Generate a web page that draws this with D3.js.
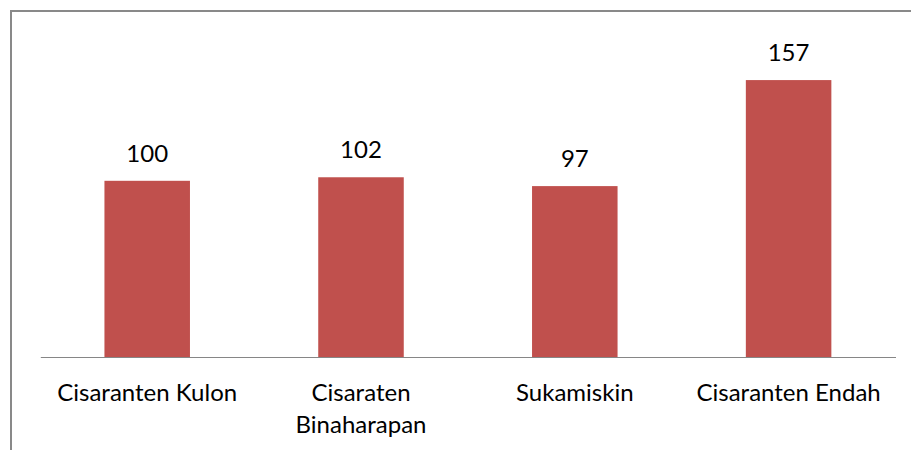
<!DOCTYPE html>
<html>
<head>
<meta charset="utf-8">
<script src="https://cdn.jsdelivr.net/npm/d3@7"></script>
<style>
  html, body { margin: 0; padding: 0; background: #fff; }
  svg { display: block; }
  text { font-family: Lato, "Open Sans", sans-serif; fill: #000; }
</style>
</head>
<body>
<svg id="chart" width="911" height="450"></svg>
<script>
const categories = ["Cisaranten Kulon", "Cisaraten Binaharapan", "Sukamiskin", "Cisaranten Endah"];
const values = [100, 102, 97, 157];

const W = 911, H = 450;
const svg = d3.select("#chart");
const fontSize = 24;

// outer frame (top and left edges visible)
svg.append("path")
  .attr("d", `M11,${H} V11 H${W}`)
  .attr("fill", "none")
  .attr("stroke", "#898989")
  .attr("stroke-width", 2);

const x = d3.scaleBand()
  .domain(categories)
  .range([40.3, 895.5])
  .paddingInner(0.6)
  .paddingOuter(0.3);

const y = d3.scaleLinear()
  .domain([0, 200])
  .range([357.5, 4.1]);

// bars
svg.append("g").selectAll("rect")
  .data(values)
  .join("rect")
  .attr("x", (d, i) => x(categories[i]))
  .attr("y", d => y(d))
  .attr("width", x.bandwidth())
  .attr("height", d => y(0) - y(d))
  .attr("fill", "#C0504D");

// value labels
svg.append("g").selectAll("text")
  .data(values)
  .join("text")
  .attr("x", (d, i) => x(categories[i]) + x.bandwidth() / 2)
  .attr("y", d => y(d) - 19)
  .attr("text-anchor", "middle")
  .style("font-size", fontSize + "px")
  .text(d => d);

// category axis
const axis = d3.axisBottom(x).tickSize(0).tickPadding(0);
const gx = svg.append("g")
  .attr("transform", `translate(0,${y(0) - 0.5})`)
  .call(axis);
gx.select(".domain").attr("stroke", "#868686").attr("stroke-width", 1);

const step = x.step();
gx.selectAll(".tick text")
  .attr("fill", "#000")
  .style("font-family", "Lato, 'Open Sans', sans-serif")
  .style("font-size", fontSize + "px")
  .attr("y", 0)
  .attr("dy", null)
  .each(function(d) {
    const t = d3.select(this);
    const words = d.split(" ");
    t.text(null);
    // measure full string
    let tspan = t.append("tspan").attr("x", 0).attr("y", 44).text(d);
    if (this.getComputedTextLength() > step - 6) {
      t.text(null);
      let line = [];
      let lines = [];
      words.forEach(w => {
        const test = line.concat([w]).join(" ");
        const ts = t.append("tspan").text(test);
        const len = ts.node().getComputedTextLength();
        ts.remove();
        if (len > step - 6 && line.length) { lines.push(line.join(" ")); line = [w]; }
        else line.push(w);
      });
      lines.push(line.join(" "));
      lines.forEach((l, i) => {
        t.append("tspan").attr("x", 0).attr("y", 44 + i * 31.7).text(l);
      });
    }
  });
</script>
</body>
</html>
